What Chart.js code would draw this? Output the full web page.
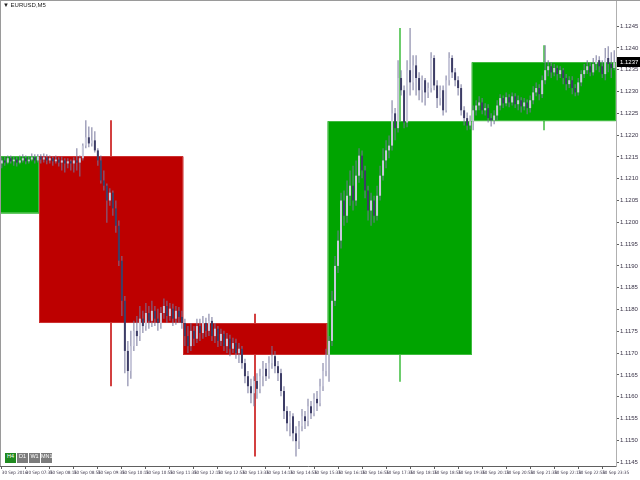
<!DOCTYPE html>
<html>
<head>
<meta charset="utf-8">
<title>EURUSD,M5</title>
<script src="https://cdn.jsdelivr.net/npm/chart.js@4.4.0/dist/chart.umd.min.js"></script>
<style>
  body { margin: 0; background: #fff; }
  #wrap { position: relative; width: 640px; height: 480px; overflow: hidden; }
  #title { position: absolute; left: 3px; top: 2px; font: 6px 'Liberation Sans', sans-serif; color: #222; }
  .tf { position: absolute; top: 453px; width: 11px; height: 10px; line-height: 10px; text-align: center;
        font: 5.5px 'Liberation Sans', sans-serif; color: #fff; background: #7c7c7c; }
  .tf.on { background: #1f8a1f; }
</style>
</head>
<body>
<div id="wrap">
  <canvas id="my-chart" width="640" height="480"></canvas>
  <div id="title">▼ EURUSD,M5</div>
  <div class="tf on" style="left:5px">H4</div>
  <div class="tf" style="left:17px">D1</div>
  <div class="tf" style="left:29px">W1</div>
  <div class="tf" style="left:41px">MN1</div>
</div>
<script>
'use strict';

// ***************** DATA ***************** //

// M5 bars, first bar 06:55
let firstBarTime = '06:55';
let barMinutes = 5;

let opens = [
  1.12135, 1.12142, 1.12137, 1.12147, 1.12140, 1.12144, 1.12137, 1.12142, 1.12147, 1.12140,
  1.12144, 1.12149, 1.12142, 1.12151, 1.12144, 1.12149, 1.12142, 1.12147, 1.12140, 1.12144,
  1.12137, 1.12142, 1.12135, 1.12140, 1.12135, 1.12142, 1.12137, 1.12147, 1.12176, 1.12195,
  1.12181, 1.12188, 1.12165, 1.12142, 1.12096, 1.12084, 1.12050, 1.12068, 1.12032, 1.11992,
  1.11912, 1.11820, 1.11705, 1.11659, 1.11716, 1.11751, 1.11739, 1.11779, 1.11762, 1.11792,
  1.11774, 1.11797, 1.11779, 1.11769, 1.11792, 1.11808, 1.11785, 1.11802, 1.11779, 1.11797,
  1.11783, 1.11769, 1.11739, 1.11716, 1.11751, 1.11733, 1.11762, 1.11746, 1.11769, 1.11751,
  1.11774, 1.11739, 1.11756, 1.11728, 1.11744, 1.11716, 1.11733, 1.11710, 1.11723, 1.11700,
  1.11710, 1.11677, 1.11647, 1.11624, 1.11608, 1.11636, 1.11618, 1.11647, 1.11664, 1.11647,
  1.11677, 1.11693, 1.11670, 1.11654, 1.11613, 1.11567, 1.11539, 1.11555, 1.11516, 1.11498,
  1.11532, 1.11555, 1.11544, 1.11578, 1.11562, 1.11595, 1.11585, 1.11624, 1.11659, 1.11696,
  1.11728, 1.11820, 1.11900, 1.11958, 1.12050, 1.12015, 1.12061, 1.12084, 1.12050, 1.12107,
  1.12153, 1.12119, 1.12073, 1.12027, 1.12050, 1.12015, 1.12061, 1.12107, 1.12142, 1.12165,
  1.12176, 1.12250, 1.12216, 1.12331, 1.12303, 1.12229, 1.12349, 1.12321, 1.12360, 1.12331,
  1.12303, 1.12326, 1.12298, 1.12308, 1.12377, 1.12314, 1.12285, 1.12303, 1.12257, 1.12326,
  1.12377, 1.12344, 1.12326, 1.12308, 1.12257, 1.12239, 1.12222, 1.12232, 1.12257, 1.12268,
  1.12275, 1.12257, 1.12262, 1.12239, 1.12234, 1.12245, 1.12268, 1.12285, 1.12273, 1.12287,
  1.12275, 1.12289, 1.12271, 1.12280, 1.12266, 1.12275, 1.12262, 1.12280, 1.12298, 1.12308,
  1.12294, 1.12326, 1.12349, 1.12358, 1.12344, 1.12354, 1.12340, 1.12349, 1.12331, 1.12317,
  1.12326, 1.12308, 1.12298, 1.12321, 1.12340, 1.12349, 1.12358, 1.12344, 1.12363, 1.12372,
  1.12358, 1.12340, 1.12377, 1.12363, 1.12354
];

let closes = [
  1.12142, 1.12137, 1.12147, 1.12140, 1.12144, 1.12137, 1.12142, 1.12147, 1.12140, 1.12144,
  1.12149, 1.12142, 1.12151, 1.12144, 1.12149, 1.12142, 1.12147, 1.12140, 1.12144, 1.12137,
  1.12142, 1.12135, 1.12140, 1.12135, 1.12142, 1.12137, 1.12147, 1.12176, 1.12195, 1.12181,
  1.12188, 1.12165, 1.12142, 1.12096, 1.12084, 1.12050, 1.12068, 1.12032, 1.11992, 1.11912,
  1.11820, 1.11705, 1.11659, 1.11716, 1.11751, 1.11739, 1.11779, 1.11762, 1.11792, 1.11774,
  1.11797, 1.11779, 1.11769, 1.11792, 1.11808, 1.11785, 1.11802, 1.11779, 1.11797, 1.11783,
  1.11769, 1.11739, 1.11716, 1.11751, 1.11733, 1.11762, 1.11746, 1.11769, 1.11751, 1.11774,
  1.11739, 1.11756, 1.11728, 1.11744, 1.11716, 1.11733, 1.11710, 1.11723, 1.11700, 1.11710,
  1.11677, 1.11647, 1.11624, 1.11608, 1.11636, 1.11618, 1.11647, 1.11664, 1.11647, 1.11677,
  1.11693, 1.11670, 1.11654, 1.11613, 1.11567, 1.11539, 1.11555, 1.11516, 1.11498, 1.11532,
  1.11555, 1.11544, 1.11578, 1.11562, 1.11595, 1.11585, 1.11624, 1.11659, 1.11696, 1.11728,
  1.11820, 1.11900, 1.11958, 1.12050, 1.12015, 1.12061, 1.12084, 1.12050, 1.12107, 1.12153,
  1.12119, 1.12073, 1.12027, 1.12050, 1.12015, 1.12061, 1.12107, 1.12142, 1.12165, 1.12176,
  1.12250, 1.12216, 1.12331, 1.12303, 1.12229, 1.12349, 1.12321, 1.12360, 1.12331, 1.12303,
  1.12326, 1.12298, 1.12308, 1.12377, 1.12314, 1.12285, 1.12303, 1.12257, 1.12326, 1.12377,
  1.12344, 1.12326, 1.12308, 1.12257, 1.12239, 1.12222, 1.12232, 1.12257, 1.12268, 1.12275,
  1.12257, 1.12262, 1.12239, 1.12234, 1.12245, 1.12268, 1.12285, 1.12273, 1.12287, 1.12275,
  1.12289, 1.12271, 1.12280, 1.12266, 1.12275, 1.12262, 1.12280, 1.12298, 1.12308, 1.12294,
  1.12326, 1.12349, 1.12358, 1.12344, 1.12354, 1.12340, 1.12349, 1.12331, 1.12317, 1.12326,
  1.12308, 1.12298, 1.12321, 1.12340, 1.12349, 1.12358, 1.12344, 1.12363, 1.12372, 1.12358,
  1.12340, 1.12377, 1.12363, 1.12354, 1.12367
];

let highs = [
  1.12149, 1.12151, 1.12153, 1.12153, 1.12151, 1.12149, 1.12153, 1.12156, 1.12153, 1.12151,
  1.12158, 1.12156, 1.12156, 1.12156, 1.12158, 1.12156, 1.12153, 1.12151, 1.12153, 1.12149,
  1.12151, 1.12147, 1.12147, 1.12144, 1.12149, 1.12170, 1.12153, 1.12181, 1.12234, 1.12220,
  1.12218, 1.12209, 1.12170, 1.12153, 1.12119, 1.12089, 1.12078, 1.12073, 1.12050, 1.12004,
  1.11923, 1.11831, 1.11728, 1.11751, 1.11774, 1.11785, 1.11808, 1.11797, 1.11815, 1.11808,
  1.11820, 1.11808, 1.11802, 1.11806, 1.11825, 1.11820, 1.11815, 1.11813, 1.11808, 1.11806,
  1.11797, 1.11779, 1.11762, 1.11769, 1.11762, 1.11779, 1.11779, 1.11785, 1.11781, 1.11790,
  1.11783, 1.11769, 1.11762, 1.11756, 1.11751, 1.11746, 1.11742, 1.11735, 1.11733, 1.11723,
  1.11716, 1.11687, 1.11659, 1.11641, 1.11647, 1.11654, 1.11664, 1.11682, 1.11677, 1.11693,
  1.11716, 1.11705, 1.11682, 1.11664, 1.11624, 1.11578, 1.11567, 1.11562, 1.11532, 1.11544,
  1.11572, 1.11567, 1.11595, 1.11590, 1.11608, 1.11613, 1.11641, 1.11677, 1.11710, 1.11739,
  1.11843, 1.11923, 1.11981, 1.12068, 1.12073, 1.12096, 1.12119, 1.12130, 1.12142, 1.12170,
  1.12165, 1.12130, 1.12084, 1.12068, 1.12061, 1.12084, 1.12130, 1.12170, 1.12188, 1.12199,
  1.12280, 1.12262, 1.12372, 1.12349, 1.12314, 1.12372, 1.12446, 1.12383, 1.12383, 1.12344,
  1.12337, 1.12331, 1.12321, 1.12390, 1.12383, 1.12326, 1.12314, 1.12314, 1.12337, 1.12390,
  1.12383, 1.12354, 1.12335, 1.12317, 1.12266, 1.12252, 1.12245, 1.12268, 1.12280, 1.12289,
  1.12285, 1.12273, 1.12271, 1.12250, 1.12257, 1.12280, 1.12294, 1.12291, 1.12298, 1.12294,
  1.12298, 1.12296, 1.12291, 1.12287, 1.12285, 1.12282, 1.12291, 1.12312, 1.12321, 1.12317,
  1.12337, 1.12406, 1.12372, 1.12367, 1.12363, 1.12360, 1.12358, 1.12354, 1.12340, 1.12335,
  1.12335, 1.12317, 1.12331, 1.12349, 1.12363, 1.12372, 1.12367, 1.12377, 1.12383, 1.12381,
  1.12372, 1.12400, 1.12404, 1.12390, 1.12395
];

let lows = [
  1.12124, 1.12130, 1.12133, 1.12135, 1.12130, 1.12128, 1.12133, 1.12137, 1.12133, 1.12135,
  1.12140, 1.12135, 1.12137, 1.12135, 1.12137, 1.12133, 1.12135, 1.12130, 1.12135, 1.12128,
  1.12119, 1.12114, 1.12124, 1.12119, 1.12114, 1.12119, 1.12105, 1.12142, 1.12170, 1.12172,
  1.12174, 1.12160, 1.12130, 1.12089, 1.12073, 1.11999, 1.12038, 1.12015, 1.11976, 1.11900,
  1.11785, 1.11654, 1.11624, 1.11641, 1.11705, 1.11716, 1.11728, 1.11746, 1.11751, 1.11756,
  1.11760, 1.11762, 1.11751, 1.11756, 1.11779, 1.11769, 1.11774, 1.11762, 1.11765, 1.11769,
  1.11756, 1.11716, 1.11700, 1.11705, 1.11716, 1.11723, 1.11728, 1.11733, 1.11737, 1.11739,
  1.11728, 1.11723, 1.11714, 1.11716, 1.11705, 1.11700, 1.11693, 1.11700, 1.11687, 1.11677,
  1.11664, 1.11631, 1.11608, 1.11585, 1.11578, 1.11595, 1.11608, 1.11624, 1.11636, 1.11641,
  1.11664, 1.11654, 1.11636, 1.11601, 1.11549, 1.11521, 1.11509, 1.11498, 1.11463, 1.11480,
  1.11521, 1.11526, 1.11532, 1.11549, 1.11555, 1.11567, 1.11578, 1.11613, 1.11647, 1.11634,
  1.11716, 1.11808, 1.11884, 1.11940, 1.11992, 1.11999, 1.12038, 1.12027, 1.12038, 1.12091,
  1.12101, 1.12055, 1.12004, 1.11992, 1.11999, 1.12004, 1.12050, 1.12096, 1.12124, 1.12147,
  1.12165, 1.12188, 1.12206, 1.12291, 1.12216, 1.12218, 1.12291, 1.12303, 1.12291, 1.12280,
  1.12275, 1.12268, 1.12285, 1.12298, 1.12303, 1.12262, 1.12268, 1.12245, 1.12252, 1.12314,
  1.12331, 1.12312, 1.12291, 1.12245, 1.12222, 1.12211, 1.12213, 1.12211, 1.12245, 1.12257,
  1.12248, 1.12245, 1.12229, 1.12220, 1.12225, 1.12234, 1.12257, 1.12262, 1.12266, 1.12264,
  1.12268, 1.12262, 1.12257, 1.12252, 1.12257, 1.12248, 1.12252, 1.12271, 1.12289, 1.12280,
  1.12285, 1.12317, 1.12335, 1.12331, 1.12335, 1.12326, 1.12331, 1.12317, 1.12303, 1.12308,
  1.12294, 1.12289, 1.12291, 1.12312, 1.12331, 1.12340, 1.12335, 1.12337, 1.12349, 1.12344,
  1.12331, 1.12326, 1.12344, 1.12331, 1.12349
];

// H4 candles drawn behind the M5 bars
let h4Starts = ['04:00', '08:00', '12:00', '16:00', '20:00'];
let h4Open = [1.12020, 1.12151, 1.11769, 1.11696, 1.12232];
let h4High = [1.12175, 1.12234, 1.11790, 1.12446, 1.12406];
let h4Low = [1.11990, 1.11624, 1.11463, 1.11634, 1.12211];
let h4Close = [1.12151, 1.11769, 1.11696, 1.12232, 1.12367];

let timeLabels = [
  '30 Sep 2016', '30 Sep 07:35', '30 Sep 08:15', '30 Sep 08:55', '30 Sep 09:35',
  '30 Sep 10:15', '30 Sep 10:55', '30 Sep 11:35', '30 Sep 12:15', '30 Sep 12:55',
  '30 Sep 13:35', '30 Sep 14:15', '30 Sep 14:55', '30 Sep 15:35', '30 Sep 16:15',
  '30 Sep 16:55', '30 Sep 17:35', '30 Sep 18:15', '30 Sep 18:55', '30 Sep 19:35',
  '30 Sep 20:15', '30 Sep 20:55', '30 Sep 21:35', '30 Sep 22:15', '30 Sep 22:55',
  '30 Sep 23:35'
];

let priceTicks = [
  1.1245, 1.1240, 1.1235, 1.1230, 1.1225, 1.1220, 1.1215, 1.1210, 1.1205, 1.1200, 1.1195,
  1.1190, 1.1185, 1.1180, 1.1175, 1.1170, 1.1165, 1.1160, 1.1155, 1.1150, 1.1145
];

// ***************** HELPERS ***************** //

let bullFill = '#c8c8da';
let bearFill = '#3d3d66';
let wickColor = '#74749a';
let labelFont = { family: "'Liberation Sans Narrow', 'DejaVu Sans Condensed', 'Liberation Sans', sans-serif", size: 4.5 };

function minutesOf(t) {
  let parts = t.split(':');
  return Number(parts[0]) * 60 + Number(parts[1]);
}

function barIndexOf(t) {
  return (minutesOf(t) - minutesOf(firstBarTime)) / barMinutes;
}

let wickData = [];
let bodyData = [];
let bodyColors = [];
for (let i = 0; i < closes.length; i++) {
  wickData.push({ x: i, y: [lows[i], highs[i]] });
  bodyData.push({ x: i, y: [opens[i], closes[i]] });
  bodyColors.push(closes[i] >= opens[i] ? bullFill : bearFill);
}

let tickBars = timeLabels.map((label, i) => i * 8);

// ***************** H4 BOXES + PRICE LABEL PLUGIN ***************** //

let h4Plugin = {
  id: 'h4Boxes',
  beforeDatasetsDraw(chart) {
    let { ctx, chartArea, scales } = chart;
    let x = scales.x;
    let y = scales.y;
    ctx.save();
    ctx.beginPath();
    ctx.rect(chartArea.left, chartArea.top, chartArea.width, chartArea.height);
    ctx.clip();
    for (let i = 0; i < h4Open.length; i++) {
      let bull = h4Close[i] >= h4Open[i];
      let first = barIndexOf(h4Starts[i]);
      let last = first + 240 / barMinutes - 1;
      let left = x.getPixelForValue(first - 0.5);
      let right = x.getPixelForValue(last + 0.5);
      let mid = Math.round(x.getPixelForValue((first + last) / 2));
      let top = y.getPixelForValue(Math.max(h4Open[i], h4Close[i]));
      let bottom = y.getPixelForValue(Math.min(h4Open[i], h4Close[i]));

      ctx.strokeStyle = bull ? '#3cbc3c' : '#c40000';
      ctx.lineWidth = 1.5;
      ctx.beginPath();
      ctx.moveTo(mid, y.getPixelForValue(h4High[i]));
      ctx.lineTo(mid, y.getPixelForValue(h4Low[i]));
      ctx.stroke();

      ctx.fillStyle = bull ? '#00a400' : '#bd0000';
      ctx.fillRect(left, top, right - left, bottom - top);
      ctx.strokeStyle = bull ? '#40bb40' : '#cc3030';
      ctx.lineWidth = 1;
      ctx.strokeRect(Math.round(left) + 0.5, Math.round(top) + 0.5, Math.round(right - left) - 1, Math.round(bottom - top) - 1);
    }
    ctx.restore();
  },
  afterDraw(chart) {
    let { ctx, chartArea, scales } = chart;
    let last = closes[closes.length - 1];
    let py = Math.round(scales.y.getPixelForValue(last));
    ctx.save();
    ctx.fillStyle = '#000';
    ctx.fillRect(chartArea.right + 1, py - 5, 23, 10);
    ctx.fillStyle = '#fff';
    ctx.font = "6px 'Liberation Sans', sans-serif";
    ctx.textBaseline = 'middle';
    ctx.fillText(last.toFixed(4), chartArea.right + 4, py + 0.5);
    // window frame
    ctx.fillStyle = '#9a9a9a';
    ctx.fillRect(0, 0, chart.width, 1);
    ctx.fillRect(0, 0, 1, chartArea.bottom);
    ctx.restore();
  }
};

// ***************** CHART ***************** //

let ctx = document.getElementById('my-chart').getContext('2d');

new Chart(ctx, {
  type: 'bar',
  data: {
    datasets: [
      {
        label: 'wicks',
        data: wickData,
        backgroundColor: wickColor,
        barThickness: 1,
        grouped: false,
        inflateAmount: 0,
        order: 1
      },
      {
        label: 'bodies',
        data: bodyData,
        backgroundColor: bodyColors,
        barThickness: 2,
        grouped: false,
        inflateAmount: 0,
        order: 0
      }
    ]
  },
  options: {
    responsive: false,
    animation: false,
    devicePixelRatio: 1,
    events: [],
    layout: { padding: 0 },
    plugins: {
      legend: { display: false },
      tooltip: { enabled: false }
    },
    scales: {
      x: {
        type: 'linear',
        offset: false,
        min: -0.6,
        max: 204.6,
        afterBuildTicks(scale) {
          scale.ticks = tickBars.map(v => ({ value: v }));
        },
        afterFit(scale) {
          scale.height = 14;
          scale.paddingLeft = 0;
          scale.paddingRight = 0;
        },
        grid: { offset: false, drawOnChartArea: false, tickLength: 3, color: '#606060' },
        border: { color: '#606060' },
        ticks: {
          autoSkip: false,
          maxRotation: 0,
          align: 'start',
          padding: 1,
          color: '#3a3448',
          font: labelFont,
          callback: (value, index) => timeLabels[index]
        }
      },
      y: {
        type: 'linear',
        position: 'right',
        min: 1.11441,
        max: 1.12510,
        afterBuildTicks(scale) {
          scale.ticks = priceTicks.map(v => ({ value: v }));
        },
        afterFit(scale) {
          scale.width = 24;
          scale.paddingTop = 0;
          scale.paddingBottom = 0;
        },
        grid: { drawOnChartArea: false, tickLength: 3, color: '#606060' },
        border: { color: '#b0b0b0' },
        ticks: {
          autoSkip: false,
          padding: 1,
          color: '#3a3448',
          font: { family: "'Liberation Sans', sans-serif", size: 6 },
          callback: value => value.toFixed(4)
        }
      }
    }
  },
  plugins: [h4Plugin]
});
</script>
</body>
</html>
